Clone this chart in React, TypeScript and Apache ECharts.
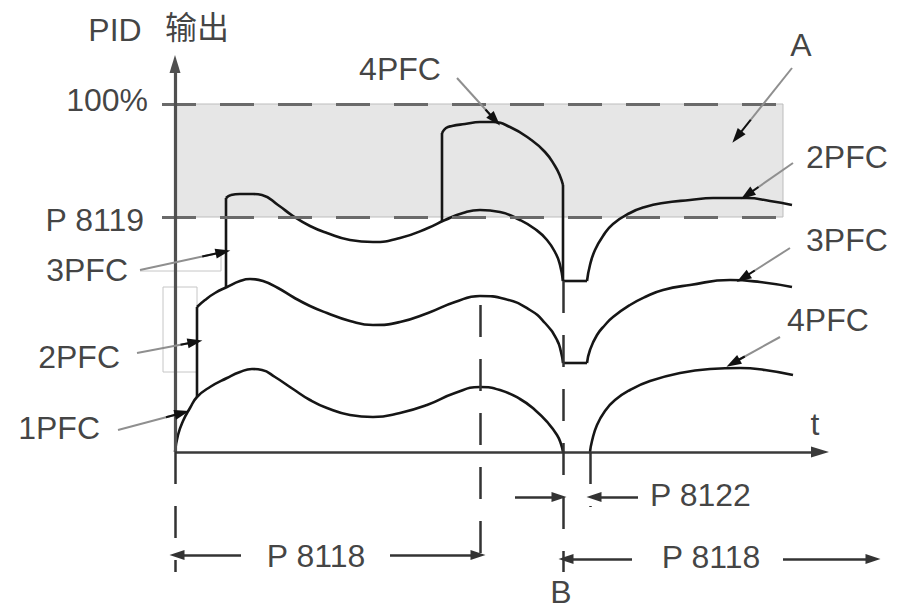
import React, { useEffect, useRef } from "react";
import * as echarts from "echarts";

// Units: t = time from the origin, level = PID output (100 % = 348, P 8119 = 235)
const LEVEL_100 = 348;
const LEVEL_P8119 = 235;
const BAND_END_T = 608;

// 1PFC curve
const pfc1Before: number[][] = [[0,0],[3,17],[8,31],[15,44],[22,55],[35,65],[52,74],[65,80],[77,83],[87,82],[100,75],[118,63],[135,52],[152,44],[175,37],[198,35],[225,39],[252,47],[280,59],[305,65],[325,62],[345,53],[360,42],[373,29],[382,17],[386,8],[388,0]];
const pfc1After: number[][] = [[415,0],[417,11],[422,27],[430,41],[440,52],[455,62],[475,71],[505,79],[535,83],[565,84],[590,82],[618,77]];
// 2PFC curve
const pfc2Step: number[][] = [[22,55],[22,145]];
const pfc2Before: number[][] = [[22,145],[30,152],[40,159],[52,165],[65,171],[75,173],[88,171],[103,164],[118,155],[135,146],[152,139],[175,131],[198,127],[225,130],[253,139],[280,150],[305,156],[330,153],[355,142],[370,129],[382,112],[386,100],[388,89]];
const pfc2Hold: number[][] = [[388,89],[412,89]];
const pfc2After: number[][] = [[412,89],[415,102],[422,117],[430,127],[438,135],[455,147],[470,155],[488,162],[515,167],[555,172],[585,170],[617,165]];
// 3PFC curve
const pfc3Step: number[][] = [[51,165],[51,254]];
const pfc3Before: number[][] = [[51,254],[56,257],[65,258],[78,258],[87,257],[103,247],[118,236],[135,226],[152,219],[175,212],[198,210],[225,214],[253,224],[270,232],[288,239],[305,242],[325,240],[345,232],[360,223],[372,212],[381,198],[385,187],[388,171]];
const pfc3Hold: number[][] = [[388,171],[412,171]];
const pfc3After: number[][] = [[412,171],[415,187],[420,202],[428,216],[438,228],[455,239],[470,245],[488,249],[515,252],[538,254],[572,254],[595,251],[617,247]];
// 4PFC curve
const pfc4Step: number[][] = [[267,231],[267,319]];
const pfc4Run: number[][] = [[267,319],[271,324],[277,326],[290,328],[305,330],[318,330],[335,325],[355,313],[370,300],[380,286],[385,276],[388,267]];
const pfc4Drop: number[][] = [[388,267],[388,171]];

// text labels: [text, t, level, align]
const labelTexts: [string, number, number, string][] = [
  ["PID", -60, 422, "center"],
  ["输出", 22, 424, "center"],
  ["100%", -27, 352, "right"],
  ["P 8119", -31, 232, "right"],
  ["4PFC", 225, 383, "center"],
  ["A", 626, 407, "center"],
  ["2PFC", 631, 295, "left"],
  ["3PFC", 631, 212, "left"],
  ["4PFC", 612, 132, "left"],
  ["3PFC", -47, 182, "right"],
  ["2PFC", -55, 95, "right"],
  ["1PFC", -75, 24, "right"],
  ["t", 640, 28, "center"],
  ["P 8118", 141, -104, "center"],
  ["P 8118", 536, -105, "center"],
  ["P 8122", 475, -43, "left"],
  ["B", 386, -140, "center"],
];

// leader arrows: from -> tip
const leaders: number[][][] = [
  [[282,374],[320,332]],
  [[617,384],[562,315]],
  [[618,289],[572,257]],
  [[615,204],[568,174]],
  [[605,115],[558,89]],
  [[-35,182],[48,200]],
  [[-38,99],[20,110]],
  [[-57,22],[7,39]],
];

// dimension arrows: from -> tip
const dimArrows: number[][][] = [
  [[66,-103],[2,-103]],
  [[215,-103],[303,-103]],
  [[457,-107],[391,-107]],
  [[608,-107],[698,-107]],
  [[340,-45],[384,-45]],
  [[463,-45],[419,-45]],
];

// dashed verticals: [t, fromLevel, toLevel]
const dashedVerticals: number[][] = [
  [0, 0, -120],
  [305, 147, -111],
  [388, 171, -120],
  [415, 0, -55],
];

const FONT = '"Liberation Sans", Arial, "Noto Sans CJK SC", sans-serif';

function seg(a: number[], b: number[], style: any, s0 = "none", s1 = "none", size: number[] = [10, 14]) {
  return [
    { coord: a, symbol: s0, symbolSize: size, lineStyle: style },
    { coord: b, symbol: s1, symbolSize: size },
  ];
}

export default function App() {
  const ref = useRef<HTMLDivElement>(null);
  useEffect(() => {
    if (!ref.current) return;
    const chart = echarts.init(ref.current, undefined, { renderer: "svg" });

    const curveStyle = { color: "#161616", width: 2.6 };
    const curve = (data: number[][], smooth: number | boolean = 0.5) => ({
      type: "line",
      data,
      smooth,
      symbol: "none",
      showSymbol: false,
      silent: true,
      z: 4,
      lineStyle: curveStyle,
    });

    const leaderLines: any[] = [];
    leaders.forEach(([a, b]) => {
      leaderLines.push(seg(a, b, { color: "#8f8f8f", width: 2, type: "solid" }));
      const p = [a[0] + (b[0] - a[0]) * 0.75, a[1] + (b[1] - a[1]) * 0.75];
      leaderLines.push(seg(p, b, { color: "#111", width: 2, type: "solid" }, "none", "triangle", [10, 15]));
    });
    const dimLines = dimArrows.map(([a, b]) =>
      seg(a, b, { color: "#333", width: 2.5, type: "solid" }, "none", "triangle", [10, 15])
    );
    const vLines = dashedVerticals.map(([t, l0, l1]) =>
      seg([t, l0], [t, l1], { color: "#333", width: 2.5, type: [32, 22] })
    );
    const hLines = [LEVEL_100, LEVEL_P8119].map((lv) =>
      seg([-13, lv], [BAND_END_T, lv], { color: "#6a6a6a", width: 3, type: [34, 24] })
    );
    const axisLines = [
      seg([0, 0], [0, 388], { color: "#505050", width: 3.2, type: "solid" }, "none", "triangle", [11, 18]),
      seg([0, 0], [645, 0], { color: "#3a3a3a", width: 2.6, type: "solid" }, "none", "triangle", [11, 18]),
    ];

    const option: any = {
      animation: false,
      grid: { left: 0, right: 0, top: 0, bottom: 0 },
      xAxis: { type: "value", min: -175, max: 732, show: false },
      yAxis: { type: "value", min: -159, max: 452, show: false },
      series: [
        {
          type: "line",
          data: [],
          z: 1,
          silent: true,
          markArea: {
            silent: true,
            label: { show: false },
            data: [
              [{ coord: [0, LEVEL_P8119], itemStyle: { color: "#e6e6e6", borderColor: "#bdbdbd", borderWidth: 1 } }, { coord: [BAND_END_T, LEVEL_100] }],
              [{ coord: [-12, 80], itemStyle: { color: "rgba(0,0,0,0)", borderColor: "#c6c6c6", borderWidth: 1 } }, { coord: [22, 165] }],
            ],
          },
        },
        {
          type: "line",
          data: [[-35, 181], [46, 181], [46, 202]],
          symbol: "none",
          silent: true,
          z: 2,
          lineStyle: { color: "#c6c6c6", width: 1 },
        },
        {
          type: "line",
          data: [],
          z: 2,
          silent: true,
          markLine: {
            silent: true,
            symbol: "none",
            label: { show: false },
            emphasis: { disabled: true },
            data: [...hLines],
          },
        },
        curve(pfc1Before),
        curve(pfc1After),
        curve(pfc2Step, false),
        curve(pfc2Before),
        curve(pfc2Hold, false),
        curve(pfc2After),
        curve(pfc3Step, false),
        curve(pfc3Before),
        curve(pfc3Hold, false),
        curve(pfc3After),
        curve(pfc4Step, false),
        curve(pfc4Run),
        curve(pfc4Drop, false),
        {
          type: "line",
          data: [],
          z: 5,
          silent: true,
          markLine: {
            silent: true,
            symbol: "none",
            label: { show: false },
            emphasis: { disabled: true },
            data: [...axisLines, ...vLines, ...leaderLines, ...dimLines],
          },
        },
        {
          type: "scatter",
          symbolSize: 0,
          silent: true,
          z: 6,
          data: labelTexts.map(([text, t, lv, align]) => ({
            value: [t, lv],
            name: text,
            label: {
              show: true,
              position: [0, 0],
              formatter: text,
              align,
              verticalAlign: "middle",
              fontSize: 32,
              fontFamily: FONT,
              color: "#111",
            },
          })),
        },
      ],
    };
    chart.setOption(option);
    return () => chart.dispose();
  }, []);

  return (
    <div
      ref={ref}
      style={{ position: "fixed", left: 0, top: 0, width: 907, height: 611, background: "#fff" }}
    />
  );
}
